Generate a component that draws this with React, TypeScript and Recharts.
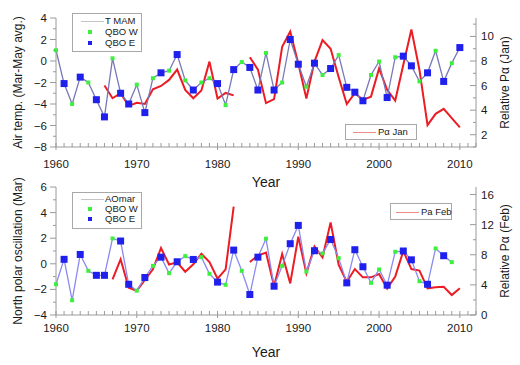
import React from 'react';
import { LineChart, Line, XAxis, YAxis, Legend } from 'recharts';

const years = [
  1960, 1961, 1962, 1963, 1964, 1965, 1966, 1967, 1968, 1969,
  1970, 1971, 1972, 1973, 1974, 1975, 1976, 1977, 1978, 1979,
  1980, 1981, 1982, 1983, 1984, 1985, 1986, 1987, 1988, 1989,
  1990, 1991, 1992, 1993, 1994, 1995, 1996, 1997, 1998, 1999,
  2000, 2001, 2002, 2003, 2004, 2005, 2006, 2007, 2008, 2009,
  2010,
];

const qboPhase = [
  'W', 'E', 'W', 'E', 'W', 'E', 'E', 'W', 'E', 'E',
  'W', 'E', 'W', 'E', 'W', 'E', 'W', 'E', 'W', 'W',
  'E', 'W', 'E', 'W', 'E', 'E', 'W', 'E', 'W', 'E',
  'E', 'W', 'E', 'W', 'E', 'W', 'E', 'E', 'E', 'W',
  'W', 'E', 'W', 'E', 'E', 'W', 'E', 'W', 'E', 'W',
  'E',
];

const tMam = [
  1.0, -2.1, -4.0, -1.5, -2.0, -3.6, -5.2, 0.25, -3.0, -4.0,
  -2.2, -4.8, -1.6, -1.1, -0.9, 0.6, -1.8, -2.7, -2.0, -1.6,
  -2.1, -4.1, -0.8, -0.1, -0.6, -2.7, 0.75, -2.7, -2.0, 2.0,
  -0.3, -2.4, -0.2, -1.3, -0.7, 0.55, -2.45, -2.9, -3.7, -1.3,
  -0.05, -3.4, 0.35, 0.45, -0.45, -1.9, -1.1, 0.95, -1.9, -0.2,
  1.25,
];

const aoMar = [
  -1.6, 0.35, -2.85, 0.73, -0.55, -0.9, -0.9, 1.98, 1.78, -1.6,
  -2.1, -1.07, -0.16, 0.52, -0.73, 0.16, 0.6, 0.34, 0.52, -0.78,
  -1.43, -1.64, 1.07, -0.55, -2.4, 0.52, 1.96, -1.75, -0.16, 1.57,
  3.0, -0.6, 1.02, 0.81, 1.9, 0.44, -1.49, 1.1, -0.23, -1.49,
  -0.44, -1.67, 0.94, 1.0, 0.31, -1.36, -1.6, 1.2, 0.63, 0.13,
  null,
];

const paJan = [
  null, null, null, null, null, null, 6.0, 4.97, 5.38, 4.35,
  4.6, 4.5, 5.7, 5.97, 6.46, 7.3, 5.65, 4.97, 5.6, 7.95,
  4.95, 5.4, 5.2, null, 8.3, 7.3, 4.57, 4.9, 9.16, 10.4,
  7.8, 4.95, 7.95, 9.7, 9.0, 6.68, 4.5, 5.38, 4.84, 5.1,
  7.4, 5.65, 4.78, 7.7, 10.57, 7.27, 2.78, 3.7, 4.1, 3.35,
  2.6,
];

const paFeb = [
  null, null, null, null, null, null, null, 4.73, 7.4, 3.63,
  3.23, 4.65, 6.06, 8.9, 6.7, 7.0, 5.75, 6.73, 8.14, 7.04,
  4.82, 6.06, 14.4, null, 7.04, 7.9, 8.3, 3.85, 8.1, 4.2,
  10.4, 5.53, 9.1, 7.65, 12.3, 6.64, 4.42, 6.1, 5.0, 5.0,
  5.44, 3.5, 5.1, 8.5, 6.1, 5.9, 3.54, 3.67, 3.76, 2.65,
  3.54,
];

const xTicks = [
  1960, 1961, 1962, 1963, 1964, 1965, 1966, 1967, 1968, 1969,
  1970, 1971, 1972, 1973, 1974, 1975, 1976, 1977, 1978, 1979,
  1980, 1981, 1982, 1983, 1984, 1985, 1986, 1987, 1988, 1989,
  1990, 1991, 1992, 1993, 1994, 1995, 1996, 1997, 1998, 1999,
  2000, 2001, 2002, 2003, 2004, 2005, 2006, 2007, 2008, 2009,
  2010, 2011, 2012,
];
const topLeftTicks = [-8, -7, -6, -5, -4, -3, -2, -1, 0, 1, 2, 3, 4];
const topRightTicks = [1, 2, 3, 4, 5, 6, 7, 8, 9, 10, 11];
const botLeftTicks = [-4, -3, -2, -1, 0, 1, 2, 3, 4, 5, 6];
const botRightTicks = [0, 2, 4, 6, 8, 10, 12, 14, 16];

const data = years.map((year, i) => ({
  year,
  q: qboPhase[i],
  t: tMam[i],
  ao: aoMar[i],
  jan: paJan[i],
  feb: paFeb[i],
}));

const FONT = '"Liberation Sans", Arial, Helvetica, sans-serif';
const AXIS = '#9a9a9a';
const TXT = '#1a1a1a';
const GREEN = '#3ef03e';
const BLUE = '#2020ee';
const RED = '#ec1c24';

const makeXTick = (labelDy: number) => (props: any) => {
  const { x, y, payload } = props;
  const v = payload.value;
  const major = v % 10 === 0;
  return (
    <g>
      <line x1={x} x2={x} y1={y - 4} y2={major ? y + 3 : y} stroke={AXIS} strokeWidth={1} />
      {major && (
        <text x={x} y={y + labelDy} textAnchor="middle" fontSize={11.5} fill={TXT} fontFamily={FONT}>
          {v}
        </text>
      )}
    </g>
  );
};

const makeLeftTick = (step: number) => (props: any) => {
  const { x, y, payload } = props;
  const v = payload.value;
  const major = v % step === 0;
  return (
    <g>
      <line x1={x - (major ? 6 : 3)} x2={x} y1={y} y2={y} stroke={AXIS} strokeWidth={1} />
      {major && (
        <text x={x - 9} y={y + 4} textAnchor="end" fontSize={11.5} fill={TXT} fontFamily={FONT}>
          {v < 0 ? '\u2212' + Math.abs(v) : v}
        </text>
      )}
    </g>
  );
};

const makeRightTick = (step: number) => (props: any) => {
  const { x, y, payload } = props;
  const v = payload.value;
  const major = v % step === 0;
  return (
    <g>
      <line x1={x - (major ? 6 : 3)} x2={x} y1={y} y2={y} stroke={AXIS} strokeWidth={1} />
      {major && (
        <text x={x + 5} y={y + 4} textAnchor="start" fontSize={11.5} fill={TXT} fontFamily={FONT}>
          {v}
        </text>
      )}
    </g>
  );
};

const vLabel = (text: string, dxFromAxisBox: number) => (props: any) => {
  const vb = props.viewBox || {};
  const cx = vb.x + dxFromAxisBox;
  const cy = vb.y + vb.height / 2;
  return (
    <text
      x={cx}
      y={cy}
      textAnchor="middle"
      dominantBaseline="central"
      fontSize={12}
      fill={TXT}
      fontFamily={FONT}
      transform={`rotate(-90 ${cx} ${cy})`}
    >
      {text}
    </text>
  );
};

const yearLabel = (baseline: number) => (props: any) => {
  const vb = props.viewBox || {};
  return (
    <text x={vb.x + vb.width / 2} y={vb.y + baseline} textAnchor="middle" fontSize={14} fill={TXT} fontFamily={FONT}>
      Year
    </text>
  );
};

const QboDot = (props: any) => {
  const { cx, cy, payload, index } = props;
  if (cx == null || cy == null || payload == null) return <g key={`d${index}`} />;
  const w = payload.q === 'W';
  const s = w ? 4 : 7;
  return <rect key={`d${index}`} x={cx - s / 2} y={cy - s / 2} width={s} height={s} fill={w ? GREEN : BLUE} />;
};

const boxStyle = (left: number, top: number, width: number, height: number): React.CSSProperties => ({
  position: 'absolute',
  left,
  top,
  width,
  height,
  border: '1px solid #a8a8a8',
  background: '#fff',
  boxSizing: 'border-box',
  fontFamily: FONT,
  fontSize: 9.5,
  color: TXT,
});

const rowText = (left: number, cy: number, text: string) => (
  <div style={{ position: 'absolute', left, top: cy - 6, lineHeight: '12px', whiteSpace: 'nowrap' }}>{text}</div>
);

const lineSwatch = (left: number, cy: number, width: number, color: string) => (
  <div style={{ position: 'absolute', left, top: cy - 0.5, width, height: 1, background: color }} />
);

const squareSwatch = (cx: number, cy: number, size: number, color: string) => (
  <div style={{ position: 'absolute', left: cx - size / 2, top: cy - size / 2, width: size, height: size, background: color }} />
);

const TopLegend = () => (
  <div style={{ position: 'relative', width: 520, height: 0 }}>
    <div style={boxStyle(72, 13, 70, 39)}>
      {lineSwatch(8, 7, 23, '#c4c4c4')}
      {rowText(32, 7, 'T MAM')}
      {squareSwatch(17, 18, 4, GREEN)}
      {rowText(32, 18, 'QBO W')}
      {squareSwatch(17, 28.5, 4, BLUE)}
      {rowText(32, 28.5, 'QBO E')}
    </div>
    <div style={boxStyle(345, 124, 72, 16)}>
      {lineSwatch(7, 7, 23, '#f08a8a')}
      {rowText(32, 7, 'P\u03b1 Jan')}
    </div>
  </div>
);

// bottom chart container starts at page y = 160
const BottomLegend = () => (
  <div style={{ position: 'relative', width: 520, height: 0 }}>
    <div style={boxStyle(72, 32, 70, 37)}>
      {lineSwatch(8, 6, 23, '#c4c4c4')}
      {rowText(32, 6, 'AOmar')}
      {squareSwatch(17, 16, 4, GREEN)}
      {rowText(32, 16, 'QBO W')}
      {squareSwatch(17, 26, 4, BLUE)}
      {rowText(32, 26, 'QBO E')}
    </div>
    <div style={boxStyle(390, 43, 62, 17)}>
      {lineSwatch(5, 8, 23, '#f08a8a')}
      {rowText(30, 8, 'Pa Feb')}
    </div>
  </div>
);

export default function App() {
  return (
    <div style={{ position: 'absolute', left: 0, top: 0, width: 520, height: 365, background: '#fff', fontFamily: FONT }}>
      <div style={{ position: 'absolute', left: 0, top: 0 }}>
        <LineChart width={520} height={192} data={data} margin={{ top: 18, right: 0, bottom: 0, left: 0 }}>
          <XAxis
            dataKey="year"
            type="number"
            domain={[1960, 2012]}
            ticks={xTicks}
            interval={0}
            height={45}
            tickSize={0}
            tickMargin={0}
            tickLine={false}
            stroke={AXIS}
            tick={makeXTick(20.5)}
            label={{ content: yearLabel(40) } as any}
          />
          <YAxis
            yAxisId="l"
            domain={[-8, 4]}
            ticks={topLeftTicks}
            interval={0}
            width={56}
            tickSize={0}
            tickMargin={0}
            tickLine={false}
            stroke={AXIS}
            tick={makeLeftTick(2)}
            label={{ content: vLabel('Air temp. (Mar-May avg.)', 18) } as any}
          />
          <YAxis
            yAxisId="r"
            orientation="right"
            domain={[1, 11.5]}
            ticks={topRightTicks}
            interval={0}
            width={44}
            tickSize={0}
            tickMargin={0}
            tickLine={false}
            stroke={AXIS}
            tick={makeRightTick(2)}
            label={{ content: vLabel('Relative P\u03b1 (Jan)', 29) } as any}
          />
          <Legend content={() => <TopLegend />} wrapperStyle={{ left: 0, top: 0, width: 520, height: 0 }} />
          <Line
            yAxisId="r"
            dataKey="jan"
            name="P\u03b1 Jan"
            stroke={RED}
            strokeWidth={2}
            dot={false}
            activeDot={false}
            connectNulls={false}
            isAnimationActive={false}
          />
          <Line
            yAxisId="l"
            dataKey="t"
            name="T MAM"
            stroke="#7878b8"
            strokeWidth={1.3}
            dot={QboDot}
            activeDot={false}
            isAnimationActive={false}
          />
        </LineChart>
      </div>
      <div style={{ position: 'absolute', left: 0, top: 160 }}>
        <LineChart width={520} height={205} data={data} margin={{ top: 27, right: 0, bottom: 0, left: 0 }}>
          <XAxis
            dataKey="year"
            type="number"
            domain={[1960, 2012]}
            ticks={xTicks}
            interval={0}
            height={50}
            tickSize={0}
            tickMargin={0}
            tickLine={false}
            stroke={AXIS}
            tick={makeXTick(16.5)}
            label={{ content: yearLabel(42) } as any}
          />
          <YAxis
            yAxisId="l"
            domain={[-4, 6]}
            ticks={botLeftTicks}
            interval={0}
            width={56}
            tickSize={0}
            tickMargin={0}
            tickLine={false}
            stroke={AXIS}
            tick={makeLeftTick(2)}
            label={{ content: vLabel('North polar oscillation (Mar)', 18) } as any}
          />
          <YAxis
            yAxisId="r"
            orientation="right"
            domain={[0, 17]}
            ticks={botRightTicks}
            interval={0}
            width={44}
            tickSize={0}
            tickMargin={0}
            tickLine={false}
            stroke={AXIS}
            tick={makeRightTick(4)}
            label={{ content: vLabel('Relative P\u03b1 (Feb)', 29) } as any}
          />
          <Legend content={() => <BottomLegend />} wrapperStyle={{ left: 0, top: 0, width: 520, height: 0 }} />
          <Line
            yAxisId="r"
            dataKey="feb"
            name="Pa Feb"
            stroke={RED}
            strokeWidth={2}
            dot={false}
            activeDot={false}
            connectNulls={false}
            isAnimationActive={false}
          />
          <Line
            yAxisId="l"
            dataKey="ao"
            name="AOmar"
            stroke="#8a8af0"
            strokeWidth={1.3}
            dot={QboDot}
            activeDot={false}
            isAnimationActive={false}
          />
        </LineChart>
      </div>
    </div>
  );
}
